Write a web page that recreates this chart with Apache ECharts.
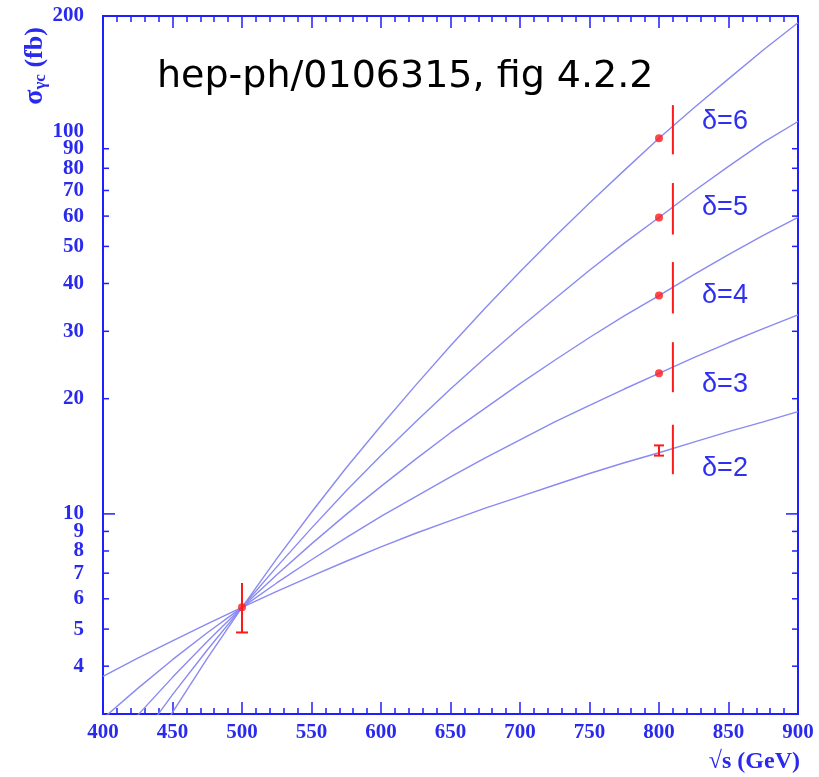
<!DOCTYPE html>
<html>
<head>
<meta charset="utf-8">
<script src="https://cdn.jsdelivr.net/npm/echarts@6/dist/echarts.min.js"></script>
<style>
  html, body { margin: 0; padding: 0; background: #ffffff; }
  #chart { width: 819px; height: 777px; }
</style>
</head>
<body>
<div id="chart"></div>
<script>
// Centre-of-mass energy grid (GeV)
const energies = [400, 425, 450, 475, 500, 525, 550, 575, 600, 625, 650,
                  675, 700, 725, 750, 775, 800, 825, 850, 875, 900];

// Cross sections (fb) for each delta
const sigmaDelta2 = [3.76, 4.2, 4.66, 5.16, 5.7, 6.27, 6.88, 7.52, 8.2, 8.9, 9.6,
                     10.35, 11.1, 11.9, 12.75, 13.6, 14.45, 15.4, 16.4, 17.4, 18.5];
const sigmaDelta3 = [2.92, 3.5, 4.16, 4.89, 5.7, 6.6, 7.59, 8.67, 9.85, 11.1, 12.5,
                     14.0, 15.6, 17.4, 19.2, 21.2, 23.3, 25.6, 28.0, 30.5, 33.1];
const sigmaDelta4 = [2.33, 2.98, 3.74, 4.64, 5.7, 6.93, 8.35, 9.97, 11.8, 13.9, 16.3,
                     18.9, 21.9, 25.2, 28.9, 32.9, 37.2, 42.2, 47.6, 53.4, 59.5];
const sigmaDelta5 = [1.87, 2.53, 3.37, 4.41, 5.7, 7.27, 9.18, 11.5, 14.2, 17.4, 21.2,
                     25.6, 30.7, 36.5, 43.3, 51.0, 59.5, 69.7, 80.9, 93.5, 106];
const sigmaDelta6 = [1.49, 2.15, 3.03, 4.19, 5.7, 7.64, 10.1, 13.2, 17.0, 21.7, 27.5,
                     34.5, 42.9, 53.0, 64.9, 79.0, 95.8, 115, 137, 163, 192];

const deltas = [6, 5, 4, 3, 2];
const curves = [sigmaDelta6, sigmaDelta5, sigmaDelta4, sigmaDelta3, sigmaDelta2];

// Measured points (sqrt s, sigma)
const measuredPoints = [[500, 5.7], [800, 95.8], [800, 59.5], [800, 37.2], [800, 23.3]];
// Error bar at 500 GeV: [sqrt s, low, high]
const errorAt500 = [[500, 4.9, 6.6]];
// Small error bar of the delta=2 point at 800 GeV
const errorDelta2 = [[800, 14.2, 15.1]];
// Uncertainty bands drawn at 810 GeV, one per delta (6..2)
const bandEnergy = 810;
const bandLow = [87, 53.7, 33.4, 20.8, 12.7];
const bandHigh = [117, 73.2, 45.5, 28.1, 17.1];

// Where the delta labels sit (sqrt s, sigma)
const labelEnergy = 831;
const labelSigma = [106, 63.1, 37.1, 21.8, 13.1];

// Axis ticks and labels
const xMin = 400, xMax = 900, xStep = 50;
const yMin = 3, yMax = 200;
const yTickValues = [4, 5, 6, 7, 8, 9, 10, 20, 30, 40, 50, 60, 70, 80, 90];
const yMajorTicks = [10];
const yTickLabels = [4, 5, 6, 7, 8, 9, 10, 20, 30, 40, 50, 60, 70, 80, 90, 100, 200];

const blue = '#1f1fff';
const textBlue = '#2a2aee';
const curveBlue = '#8a8af2';
const red = '#ff1a1a';
const serif = '"Liberation Serif", "Times New Roman", serif';

const chart = echarts.init(document.getElementById('chart'), null, { renderer: 'canvas' });

function yTickRenderer(params, api) {
  const v = api.value(1);
  const len = yMajorTicks.indexOf(v) >= 0 ? 12 : 6;
  const l = api.coord([xMin, v]);
  const r = api.coord([xMax, v]);
  return {
    type: 'group',
    children: [
      { type: 'line', shape: { x1: l[0], y1: l[1], x2: l[0] + len, y2: l[1] },
        style: { stroke: blue, lineWidth: 1.5 } },
      { type: 'line', shape: { x1: r[0], y1: r[1], x2: r[0] - len, y2: r[1] },
        style: { stroke: blue, lineWidth: 1.5 } }
    ]
  };
}

function yLabelRenderer(params, api) {
  const v = api.value(1);
  const p = api.coord([xMin, v]);
  return {
    type: 'text',
    x: p[0] - 19,
    y: p[1],
    style: {
      text: String(v),
      align: 'right',
      verticalAlign: 'middle',
      font: 'bold 21px ' + serif,
      fill: textBlue
    }
  };
}

function deltaLabelRenderer(params, api) {
  const p = api.coord([api.value(0), api.value(1)]);
  return {
    type: 'text',
    x: p[0],
    y: p[1],
    style: {
      text: 'δ=' + deltas[params.dataIndex],
      align: 'left',
      verticalAlign: 'middle',
      font: '27px "Liberation Sans", Arial, sans-serif',
      fill: '#2f2ff2'
    }
  };
}

function errorBarRenderer(lowCap, highCap, capHalf) {
  return function (params, api) {
    const x = api.value(0);
    const a = api.coord([x, api.value(1)]);
    const b = api.coord([x, api.value(2)]);
    const style = { stroke: red, lineWidth: 2 };
    const children = [
      { type: 'line', shape: { x1: a[0], y1: a[1], x2: b[0], y2: b[1] }, style: style }
    ];
    if (lowCap) {
      children.push({ type: 'line',
        shape: { x1: a[0] - capHalf, y1: a[1], x2: a[0] + capHalf, y2: a[1] }, style: style });
    }
    if (highCap) {
      children.push({ type: 'line',
        shape: { x1: b[0] - capHalf, y1: b[1], x2: b[0] + capHalf, y2: b[1] }, style: style });
    }
    return { type: 'group', children: children };
  };
}

const curveSeries = curves.map(function (vals, i) {
  return {
    name: 'δ=' + deltas[i],
    type: 'line',
    data: energies.map(function (e, k) { return [e, vals[k]]; }),
    showSymbol: false,
    symbol: 'none',
    clip: true,
    lineStyle: { color: curveBlue, width: 1.4 },
    z: 2,
    silent: true
  };
});

const option = {
  animation: false,
  backgroundColor: '#ffffff',
  grid: {
    left: 103, right: 21, top: 16, bottom: 63,
    show: true, borderColor: blue, borderWidth: 2, backgroundColor: 'transparent'
  },
  xAxis: [
    {
      type: 'value', min: xMin, max: xMax, interval: xStep, position: 'bottom',
      axisLine: { show: false },
      axisTick: { show: true, inside: true, length: 12, lineStyle: { color: blue, width: 1.5 } },
      minorTick: { show: true, splitNumber: 5, length: 6, lineStyle: { color: blue, width: 1.5 } },
      splitLine: { show: false },
      axisLabel: { show: true, margin: 8, color: textBlue, fontFamily: serif,
                   fontWeight: 'bold', fontSize: 21 }
    },
    {
      type: 'value', min: xMin, max: xMax, interval: xStep, position: 'top',
      axisLine: { show: false },
      axisTick: { show: true, inside: true, length: 12, lineStyle: { color: blue, width: 1.5 } },
      minorTick: { show: true, splitNumber: 5, length: 6, lineStyle: { color: blue, width: 1.5 } },
      splitLine: { show: false },
      axisLabel: { show: false }
    }
  ],
  yAxis: {
    type: 'log', logBase: 10, min: yMin, max: yMax,
    axisLine: { show: false },
    axisTick: { show: false },
    axisLabel: { show: false },
    splitLine: { show: false }
  },
  series: curveSeries.concat([
    {
      name: 'yTicks', type: 'custom', silent: true, z: 3,
      data: yTickValues.map(function (v) { return [xMin, v]; }),
      encode: { x: 0, y: 1 },
      renderItem: yTickRenderer
    },
    {
      name: 'yLabels', type: 'custom', silent: true, z: 3,
      data: yTickLabels.map(function (v) { return [xMin, v]; }),
      encode: { x: 0, y: 1 },
      renderItem: yLabelRenderer
    },
    {
      name: 'bands', type: 'custom', silent: true, z: 4,
      data: bandLow.map(function (lo, i) { return [bandEnergy, lo, bandHigh[i]]; }),
      encode: { x: 0, y: 1 },
      renderItem: errorBarRenderer(false, false, 0)
    },
    {
      name: 'error500', type: 'custom', silent: true, z: 4,
      data: errorAt500,
      encode: { x: 0, y: 1 },
      renderItem: errorBarRenderer(true, false, 6)
    },
    {
      name: 'errorDelta2', type: 'custom', silent: true, z: 4,
      data: errorDelta2,
      encode: { x: 0, y: 1 },
      renderItem: errorBarRenderer(true, true, 5)
    },
    {
      name: 'points', type: 'scatter', silent: true, z: 5,
      data: measuredPoints,
      symbol: 'circle', symbolSize: 8,
      itemStyle: { color: red }
    },
    {
      name: 'deltaLabels', type: 'custom', silent: true, z: 5,
      data: labelSigma.map(function (s) { return [labelEnergy, s]; }),
      encode: { x: 0, y: 1 },
      renderItem: deltaLabelRenderer
    }
  ]),
  graphic: [
    {
      type: 'text', x: 157, y: 77, silent: true,
      style: {
        text: 'hep-ph/0106315, fig 4.2.2',
        font: '38px "DejaVu Sans", sans-serif',
        fill: '#000000',
        verticalAlign: 'middle'
      }
    },
    {
      type: 'text', x: 35, y: 66, rotation: Math.PI / 2, silent: true,
      style: {
        text: '{s|σ}{g|γc}{f| (fb)}',
        align: 'center',
        verticalAlign: 'middle',
        rich: {
          s: { font: 'bold 28px ' + serif, fill: textBlue, lineHeight: 28 },
          g: { font: 'bold 17px ' + serif, fill: textBlue, verticalAlign: 'bottom', lineHeight: 28 },
          f: { font: 'bold 26px ' + serif, fill: textBlue, lineHeight: 28 }
        }
      }
    },
    {
      type: 'text', x: 800, y: 762, silent: true,
      style: {
        text: '√s (GeV)',
        font: 'bold 24px ' + serif,
        fill: textBlue,
        align: 'right',
        verticalAlign: 'middle'
      }
    }
  ]
};

chart.setOption(option);
</script>
</body>
</html>
